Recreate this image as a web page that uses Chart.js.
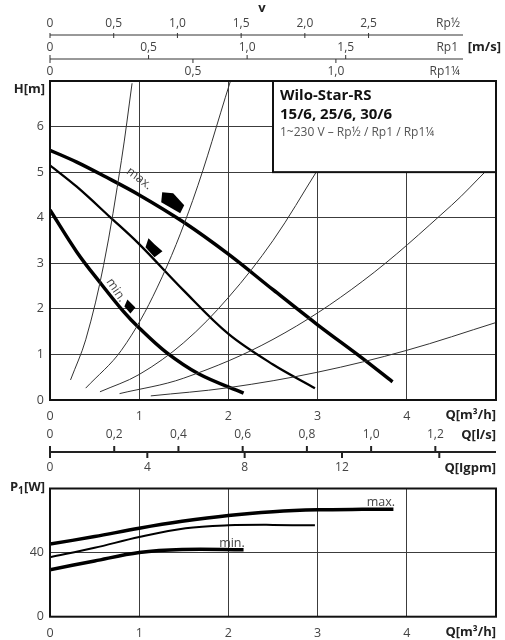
<!DOCTYPE html>
<html>
<head>
<meta charset="utf-8">
<script src="https://cdn.jsdelivr.net/npm/chart.js@4"></script>
<style>
    html, body { margin: 0; padding: 0; background: #fff; }
    #wrap { position: relative; width: 505px; height: 640px; }
    #headChart { position: absolute; left: 0; top: 0; }
    #powerChart { position: absolute; left: 0; top: 475px; }
</style>
</head>
<body>
<div id="wrap">
    <canvas id="headChart" width="505" height="475"></canvas>
    <canvas id="powerChart" width="505" height="165"></canvas>
</div>
<script>
// Pump curves H(Q): Q in m3/h, H in m
const maxQ = [0, 0.3, 0.6, 1.0, 1.5, 2.0, 2.5, 3.0, 3.5, 3.84];
const maxH = [5.48, 5.22, 4.92, 4.5, 3.9, 3.2, 2.42, 1.65, 0.92, 0.4];
const midQ = [0, 0.3, 0.67, 1.0, 1.5, 2.0, 2.5, 2.97];
const midH = [5.15, 4.68, 4.02, 3.42, 2.4, 1.45, 0.78, 0.26];
const minQ = [0, 0.3, 0.56, 0.82, 1.0, 1.3, 1.67, 2.17];
const minH = [4.17, 3.25, 2.58, 1.95, 1.58, 1.05, 0.57, 0.15];

// system (pipe) curves
const sysA_Q = [0.23, 0.4, 0.6, 0.8, 0.92];
const sysA_H = [0.44, 1.32, 2.95, 5.25, 6.95];
const sysB_Q = [0.4, 0.8, 1.2, 1.6, 2.02];
const sysB_H = [0.26, 1.09, 2.46, 4.38, 6.98];
const sysC_Q = [0.56, 1.0, 1.5, 2.0, 2.5, 3.0];
const sysC_H = [0.18, 0.56, 1.26, 2.25, 3.5, 5.05];
const sysD_Q = [0.78, 1.5, 2.5, 3.5, 4.5, 4.9];
const sysD_H = [0.14, 0.48, 1.33, 2.6, 4.27, 5.05];
const sysE_Q = [1.13, 2.0, 3.0, 4.0, 5.0];
const sysE_H = [0.09, 0.27, 0.61, 1.09, 1.7];

// Power curves P1(Q)
const pMaxQ = [0, 0.5, 1.0, 1.48, 2.0, 2.5, 3.0, 3.5, 3.85];
const pMaxP = [45.3, 50, 55.2, 59.5, 63.2, 65.5, 66.7, 67, 67];
const pMidQ = [0, 0.5, 1.0, 1.52, 2.0, 2.5, 2.97];
const pMidP = [37.1, 43, 49.7, 55.2, 57, 57.3, 57];
const pMinQ = [0, 0.5, 1.0, 1.48, 2.17];
const pMinP = [29.3, 34.8, 40.0, 41.9, 41.8];

// speed-step markers (Q, H)
const markQ = [1.37, 1.16, 0.89];
const markH = [4.36, 3.33, 2.05];

// secondary axes
const vHalfTicks = [0, 0.5, 1.0, 1.5, 2.0, 2.5];
const v1Ticks = [0, 0.5, 1.0, 1.5];
const v114Ticks = [0, 0.5, 1.0];
const vHalfPerQ = 0.70, v1PerQ = 0.4525, v114PerQ = 0.312;   // m/s per m3/h
const lsTicks = [0, 0.2, 0.4, 0.6, 0.8, 1.0, 1.2];
const igpmTicks = [0, 4, 8, 12, 16];
const igpmLabels = ['0', '4', '8', '12', ''];
const LS_TO_Q = 3.6, IGPM_TO_Q = 0.27277;

const titleLines = ['Wilo-Star-RS', '15/6, 25/6, 30/6', '1~230 V – Rp½ / Rp1 / Rp1¼'];

const FONT = "'Open Sans', sans-serif";
const GRID = '#3c3c3c';
const TXT = '#444';

const pts = (xs, ys) => xs.map((x, i) => ({ x: x, y: ys[i] }));
const comma = (v) => v === 0 ? '0' : v.toFixed(1).replace('.', ',');

function curve(xs, ys, width, color) {
    return {
        data: pts(xs, ys),
        borderColor: color || '#000',
        borderWidth: width,
        pointRadius: 0,
        fill: false,
        tension: 0.35
    };
}

function text(ctx, s, x, y, font, color, align) {
    ctx.font = font;
    ctx.fillStyle = color;
    ctx.textAlign = align || 'center';
    ctx.textBaseline = 'middle';
    ctx.fillText(s, x, y);
}

const framePlugin = {
    id: 'frame',
    afterDatasetsDraw(chart) {
        const { ctx, chartArea: a } = chart;
        ctx.save();
        ctx.strokeStyle = '#111';
        ctx.lineWidth = 2;
        ctx.strokeRect(a.left, a.top, a.right - a.left, a.bottom - a.top);
        ctx.restore();
    }
};

const headDecor = {
    id: 'headDecor',
    afterDatasetsDraw(chart) {
        const ctx = chart.ctx;
        const xs = chart.scales.x, ys = chart.scales.y;
        ctx.save();

        // speed markers
        const shapes = [
            [[-10, -9], [1, -8], [12, 4], [8, 12], [-11, 1]],
            [[-5, -10], [1, -4], [9, 3], [1, 9], [-8, -1]],
            [[-2, -7], [6, 1], [1, 7], [-5, 0]]
        ];
        ctx.fillStyle = '#000';
        markQ.forEach((q, i) => {
            const cx = xs.getPixelForValue(q), cy = ys.getPixelForValue(markH[i]);
            ctx.beginPath();
            shapes[i].forEach((p, j) => j ? ctx.lineTo(cx + p[0], cy + p[1]) : ctx.moveTo(cx + p[0], cy + p[1]));
            ctx.closePath();
            ctx.fill();
        });

        // rotated curve labels
        const lbl = (s, q, h, deg) => {
            ctx.save();
            ctx.translate(xs.getPixelForValue(q), ys.getPixelForValue(h));
            ctx.rotate(deg * Math.PI / 180);
            text(ctx, s, 0, 0, '12.5px ' + FONT, '#444');
            ctx.restore();
        };
        lbl('max.', 1.0, 4.86, 37);
        lbl('min.', 0.74, 2.41, 56);

        // title box
        const bx = xs.getPixelForValue(2.5), by = ys.getPixelForValue(5);
        const a = chart.chartArea;
        ctx.fillStyle = '#fff';
        ctx.fillRect(bx, a.top, a.right - bx, by - a.top);
        ctx.strokeStyle = '#111';
        ctx.lineWidth = 2;
        ctx.strokeRect(bx, a.top, a.right - bx, by - a.top);
        text(ctx, titleLines[0], bx + 7, a.top + 15, 'bold 15px ' + FONT, '#111', 'left');
        text(ctx, titleLines[1], bx + 7, a.top + 34, 'bold 15px ' + FONT, '#111', 'left');
        text(ctx, titleLines[2], bx + 7, a.top + 52, '12px ' + FONT, '#555', 'left');
        ctx.restore();
    },
    afterDraw(chart) {
        const ctx = chart.ctx;
        const xs = chart.scales.x;
        const a = chart.chartArea;
        const px = (q) => xs.getPixelForValue(q);
        const lf = '12px ' + FONT, bf = 'bold 13px ' + FONT;
        ctx.save();
        ctx.strokeStyle = '#333';

        // velocity rows
        text(ctx, 'v', 262, 8, 'bold 13px ' + FONT, '#222');
        const lineEnd = 463;
        ctx.lineWidth = 1;
        [35, 59].forEach(y => {
            ctx.beginPath(); ctx.moveTo(a.left, y); ctx.lineTo(lineEnd, y); ctx.stroke();
        });
        vHalfTicks.forEach(v => {
            const x = px(v / vHalfPerQ);
            text(ctx, comma(v), x, 24, lf, TXT);
            ctx.beginPath(); ctx.moveTo(x, 33); ctx.lineTo(x, 38); ctx.stroke();
        });
        v1Ticks.forEach(v => {
            const x = px(v / v1PerQ);
            text(ctx, comma(v), x, 48, lf, TXT);
            ctx.beginPath(); ctx.moveTo(x, 55); ctx.lineTo(x, 59); ctx.stroke();
        });
        v114Ticks.forEach(v => {
            const x = px(v / v114PerQ);
            text(ctx, comma(v), x, 72, lf, TXT);
            ctx.beginPath(); ctx.moveTo(x, 59); ctx.lineTo(x, 63); ctx.stroke();
        });
        text(ctx, 'Rp½', 460, 24, lf, TXT, 'right');
        text(ctx, 'Rp1', 458, 48, lf, TXT, 'right');
        text(ctx, '[m/s]', 501, 47, bf, '#222', 'right');
        text(ctx, 'Rp1¼', 460, 72, lf, TXT, 'right');

        // axis titles
        text(ctx, 'H[m]', 45, 89, bf, '#222', 'right');
        text(ctx, 'Q[m³/h]', a.right, 415, bf, '#222', 'right');

        // l/s and Igpm axis
        const ly = 452;
        ctx.lineWidth = 2;
        ctx.strokeStyle = '#222';
        ctx.beginPath(); ctx.moveTo(a.left, ly); ctx.lineTo(a.right, ly); ctx.stroke();
        ctx.beginPath(); ctx.moveTo(a.left, ly - 6); ctx.lineTo(a.left, ly + 6); ctx.stroke();
        lsTicks.forEach(v => {
            const x = px(v * LS_TO_Q);
            text(ctx, comma(v), x, 435, lf, TXT);
            if (v > 0) { ctx.beginPath(); ctx.moveTo(x, ly - 6); ctx.lineTo(x, ly); ctx.stroke(); }
        });
        igpmTicks.forEach((v, i) => {
            const x = px(v * IGPM_TO_Q);
            if (igpmLabels[i]) text(ctx, igpmLabels[i], x, 468, lf, TXT);
            if (v > 0) { ctx.beginPath(); ctx.moveTo(x, ly); ctx.lineTo(x, ly + 6); ctx.stroke(); }
        });
        text(ctx, 'Q[l/s]', a.right, 435, bf, '#222', 'right');
        text(ctx, 'Q[Igpm]', a.right, 468, bf, '#222', 'right');
        ctx.restore();
    }
};

const powerDecor = {
    id: 'powerDecor',
    afterDraw(chart) {
        const ctx = chart.ctx;
        const xs = chart.scales.x, ys = chart.scales.y;
        const a = chart.chartArea;
        ctx.save();
        text(ctx, 'max.', xs.getPixelForValue(3.71), ys.getPixelForValue(71.2), '12.5px ' + FONT, '#444');
        text(ctx, 'min.', xs.getPixelForValue(2.04), ys.getPixelForValue(46), '12.5px ' + FONT, '#444');
        text(ctx, 'P', 10, 12, 'bold 13px ' + FONT, '#222', 'left');
        text(ctx, '1', 18, 16, 'bold 10px ' + FONT, '#222', 'left');
        text(ctx, '[W]', 24, 12, 'bold 13px ' + FONT, '#222', 'left');
        text(ctx, 'Q[m³/h]', a.right, 157, 'bold 13px ' + FONT, '#222', 'right');
        ctx.restore();
    }
};

function baseScales(yMax, yStep, xHeight) {
    return {
        x: {
            type: 'linear', min: 0, max: 5,
            afterFit: (s) => { s.height = xHeight; },
            border: { display: false },
            grid: { color: GRID, lineWidth: 1, drawTicks: false },
            ticks: {
                stepSize: 1, padding: 9, color: TXT,
                font: { family: FONT, size: 12.5 },
                callback: (v) => v < 5 ? String(v) : ''
            }
        },
        y: {
            type: 'linear', min: 0, max: yMax,
            afterFit: (s) => { s.width = 50; },
            border: { display: false },
            grid: { color: GRID, lineWidth: 1, drawTicks: false },
            ticks: {
                stepSize: yStep, padding: 6, color: TXT,
                font: { family: FONT, size: 12.5 },
                callback: (v) => v < yMax ? String(v) : ''
            }
        }
    };
}

Chart.defaults.font.family = FONT;

new Chart(document.getElementById('headChart'), {
    type: 'line',
    data: {
        datasets: [
            curve(sysA_Q, sysA_H, 1, '#333'),
            curve(sysB_Q, sysB_H, 1, '#333'),
            curve(sysC_Q, sysC_H, 1, '#333'),
            curve(sysD_Q, sysD_H, 1, '#333'),
            curve(sysE_Q, sysE_H, 1, '#333'),
            curve(maxQ, maxH, 3.5),
            curve(midQ, midH, 2.3),
            curve(minQ, minH, 3.5)
        ]
    },
    options: {
        responsive: false,
        animation: false,
        layout: { padding: { top: 81, right: 6, left: 0, bottom: 0 } },
        plugins: { legend: { display: false }, tooltip: { enabled: false } },
        scales: baseScales(7, 1, 75)
    },
    plugins: [headDecor, framePlugin]
});

new Chart(document.getElementById('powerChart'), {
    type: 'line',
    data: {
        datasets: [
            curve(pMaxQ, pMaxP, 3.5),
            curve(pMidQ, pMidP, 2),
            curve(pMinQ, pMinP, 3.5)
        ]
    },
    options: {
        responsive: false,
        animation: false,
        layout: { padding: { top: 5, right: 6, left: 0, bottom: 0 } },
        plugins: { legend: { display: false }, tooltip: { enabled: false } },
        scales: baseScales(80, 40, 23.3)
    },
    plugins: [framePlugin, powerDecor]
});
</script>
</body>
</html>
